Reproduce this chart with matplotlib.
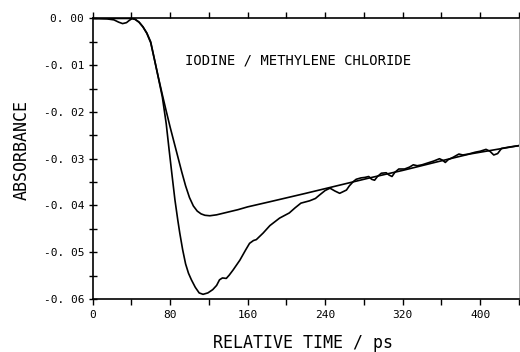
import matplotlib
matplotlib.use("Agg")
from matplotlib import pyplot as plt
from matplotlib.ticker import MultipleLocator, FixedLocator

# measured transient (noisy trace)
t_data = [0, 15, 22, 27, 31, 35, 38, 41, 44, 48, 52, 56, 60, 64, 68, 72, 76, 79, 82, 85,
          88, 90, 93, 96, 99, 102, 106, 110, 114, 119, 124, 128, 131, 134, 138, 141, 145,
          152, 158, 162, 166, 169, 176, 183, 193, 203, 209, 215, 224, 230, 234, 240, 245,
          250, 255, 259, 262, 265, 269, 272, 277, 281, 285, 288, 291, 294, 298, 303, 306,
          309, 312, 316, 322, 327, 331, 335, 340, 346, 352, 358, 361, 364, 367, 372, 378,
          382, 388, 395, 400, 406, 410, 414, 418, 422, 430, 440]
a_data = [0, -0.0001, -0.0003, -0.0008, -0.0011, -0.0009, -0.0004, 0, -0.0002, -0.0008,
          -0.0018, -0.0032, -0.0052, -0.0089, -0.0128, -0.0168, -0.0225, -0.0281, -0.0335,
          -0.0388, -0.0432, -0.0459, -0.0495, -0.0525, -0.0545, -0.0559, -0.0575, -0.0587,
          -0.0590, -0.0587, -0.0580, -0.0571, -0.0559, -0.0555, -0.0556, -0.0549, -0.0538,
          -0.0517, -0.0495, -0.0481, -0.0475, -0.0473, -0.0459, -0.0443, -0.0427, -0.0416,
          -0.0405, -0.0395, -0.0390, -0.0385, -0.0378, -0.0368, -0.0363, -0.0369, -0.0374,
          -0.0370, -0.0367, -0.0358, -0.0349, -0.0344, -0.0341, -0.0340, -0.0338, -0.0344,
          -0.0346, -0.0338, -0.0331, -0.0330, -0.0335, -0.0338, -0.0329, -0.0322, -0.0322,
          -0.0318, -0.0313, -0.0315, -0.0313, -0.0309, -0.0305, -0.0300, -0.0303, -0.0308,
          -0.0302, -0.0297, -0.0290, -0.0292, -0.0290, -0.0286, -0.0284, -0.0280, -0.0284,
          -0.0292, -0.0289, -0.0278, -0.0275, -0.0272]

# fitted curve (smooth)
t_fit = [0, 40, 44, 48, 52, 56, 60, 64, 68, 72, 76, 80, 84, 88, 92, 96, 100, 104, 108,
         112, 116, 121, 128, 138, 150, 160, 183, 220, 250, 286, 320, 355, 389, 423, 440]
a_fit = [0, 0, -0.0002, -0.0008, -0.0018, -0.0031, -0.0050, -0.0089, -0.0127, -0.0163,
         -0.0198, -0.0232, -0.0264, -0.0296, -0.0328, -0.0358, -0.0383, -0.0401, -0.0412,
         -0.0418, -0.0421, -0.0422, -0.0420, -0.0415, -0.0409, -0.0403, -0.0392, -0.0374,
         -0.0359, -0.0341, -0.0325, -0.0307, -0.0290, -0.0278, -0.0272]

x_ticks = [0, 80, 160, 240, 320, 400]
y_ticks = [0.00, -0.01, -0.02, -0.03, -0.04, -0.05, -0.06]
y_labels = ['0. 00', '-0. 01', '-0. 02', '-0. 03', '-0. 04', '-0. 05', '-0. 06']

mono = 'DejaVu Sans Mono'

fig = plt.figure(figsize=(5.2, 3.52), dpi=100)
ax = fig.add_axes([0.178, 0.1506, 0.820, 0.797])

ax.plot(t_data, a_data, color='black', linewidth=1.2)
ax.plot(t_fit, a_fit, color='black', linewidth=1.2)

ax.set_xlim(0, 440)
ax.set_ylim(-0.06, 0.0)

ax.xaxis.set_major_locator(FixedLocator(x_ticks))
ax.xaxis.set_minor_locator(MultipleLocator(40))
ax.set_xticklabels([str(v) for v in x_ticks], family=mono, fontsize=8)
ax.yaxis.set_major_locator(FixedLocator(y_ticks))
ax.yaxis.set_minor_locator(MultipleLocator(0.005))
ax.set_yticklabels(y_labels, family=mono, fontsize=8)

ax.tick_params(axis='x', which='both', direction='out', length=4, width=1,
               top=True, pad=4)
ax.tick_params(axis='y', which='both', direction='inout', length=6, width=1, pad=3)

for side in ['left', 'bottom', 'top']:
    ax.spines[side].set_linewidth(1.2)
ax.spines['right'].set_color('#aaaaaa')
ax.spines['right'].set_linewidth(0.7)

ax.text(95, -0.0089, 'IODINE / METHYLENE CHLORIDE', family=mono, fontsize=10,
        va='center', ha='left')

fig.text(0.583, 0.025, 'RELATIVE TIME / ps', family=mono, fontsize=12,
         ha='center', va='center')
fig.text(0.042, 0.574, 'ABSORBANCE', family=mono, fontsize=12, rotation=90,
         ha='center', va='center')

fig.savefig('out.png', dpi=100)
